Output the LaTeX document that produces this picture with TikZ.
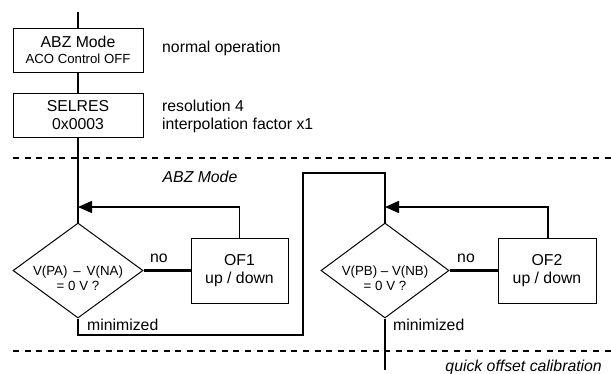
\documentclass[tikz,border=0pt]{standalone}
\usepackage{fontspec}
\setmainfont{Liberation Sans}
\usetikzlibrary{shapes.geometric,arrows.meta}
\begin{document}
\begin{tikzpicture}[x=1pt,y=-1pt,
  every node/.style={font=\fontsize{15.8}{19}\selectfont},
  box/.style={draw,line width=1pt,rectangle,inner sep=0pt,align=center},
  dia/.style={draw,line width=1pt,diamond,aspect=1.36,inner sep=0pt},
  flow/.style={line width=2.3pt},
  fb/.style={line width=1.5pt,-{Triangle[length=14pt,width=12pt]}},
  sep/.style={line width=1.3pt,dash pattern=on 6pt off 5.6pt},
  lbl/.style={inner sep=0pt},
  small/.style={font=\fontsize{13.3}{16}\selectfont}
]
\useasboundingbox (0,0) rectangle (611,373);
% separators
\coordinate (s1a) at (13,158); \coordinate (s1b) at (611,158);
\coordinate (s2a) at (13,351); \coordinate (s2b) at (611,351);
\draw[sep] (s1a) -- (s1b);
\draw[sep] (s2a) -- (s2b);
% top boxes
\coordinate (top) at (78,12);
\node[box,minimum width=130pt,minimum height=44pt] (b1) at (78,50) {ABZ Mode\\[-3pt]{\fontsize{13.2}{15}\selectfont ACO Control OFF}};
\node[box,minimum width=130pt,minimum height=44pt] (b2) at (78,115) {SELRES\\[-1pt]0x0003};
\node[lbl,anchor=west] (n1) at (162,48) {normal operation};
\node[lbl,anchor=west,align=left] (n2) at (162,116.5) {resolution 4\\[-0.5pt]interpolation factor x1};
% diamonds
\node[dia,minimum width=130pt,minimum height=95pt] (d1) at (78,270.5) {};
\node[lbl,small,align=center] (d1t) at (78,278) {V(PA) \,--\, V(NA)\\[-1pt]= 0 V ?};
\node[dia,minimum width=128pt,minimum height=95pt] (d2) at (385,270.5) {};
\node[lbl,small,align=center] (d2t) at (385,278) {V(PB) -- V(NB)\\[-1pt]= 0 V ?};
% OF boxes
\node[box,minimum width=97pt,minimum height=65pt] (o1) at (239.5,270.5) {OF1\\[-1pt]up / down};
\node[box,minimum width=98pt,minimum height=65pt] (o2) at (547,270.5) {OF2\\[-1pt]up / down};
% labels
\node[lbl] (no1) at (159,258) {no};
\node[lbl] (no2) at (466,258) {no};
\node[lbl,anchor=west] (m1) at (87,325) {minimized};
\node[lbl,anchor=west] (m2) at (393,325) {minimized};
\node[lbl,font=\fontsize{15.8}{19}\selectfont\itshape] (abz) at (200,177) {ABZ Mode};
\node[lbl,anchor=east,font=\fontsize{15.8}{19}\selectfont\itshape] (qoc) at (602,367) {quick offset calibration};
% flow
\coordinate (j1) at (78,207);
\coordinate (j2) at (385,207);
\coordinate (c1) at (78,335);
\coordinate (c2) at (303,335);
\coordinate (c3) at (303,173);
\coordinate (c4) at (385,173);
\coordinate (bot) at (385,370);
\draw[flow] (top) -- (b1.north);
\draw[flow] (b1.south) -- (b2.north);
\draw[flow] (b2.south) -- (d1.north);
\draw[flow] (d1.east) -- (o1.west);
\draw[flow] (d2.east) -- (o2.west);
\draw[flow] (d1.south) -- (c1) -- (c2) -- (c3) -- (c4) -- (d2.north);
\draw[flow] (d2.south) -- (bot);
\draw[fb] (o1.north) |- (j1);
\draw[fb] (o2.north -| 548,0) |- (j2);
\end{tikzpicture}
\end{document}
